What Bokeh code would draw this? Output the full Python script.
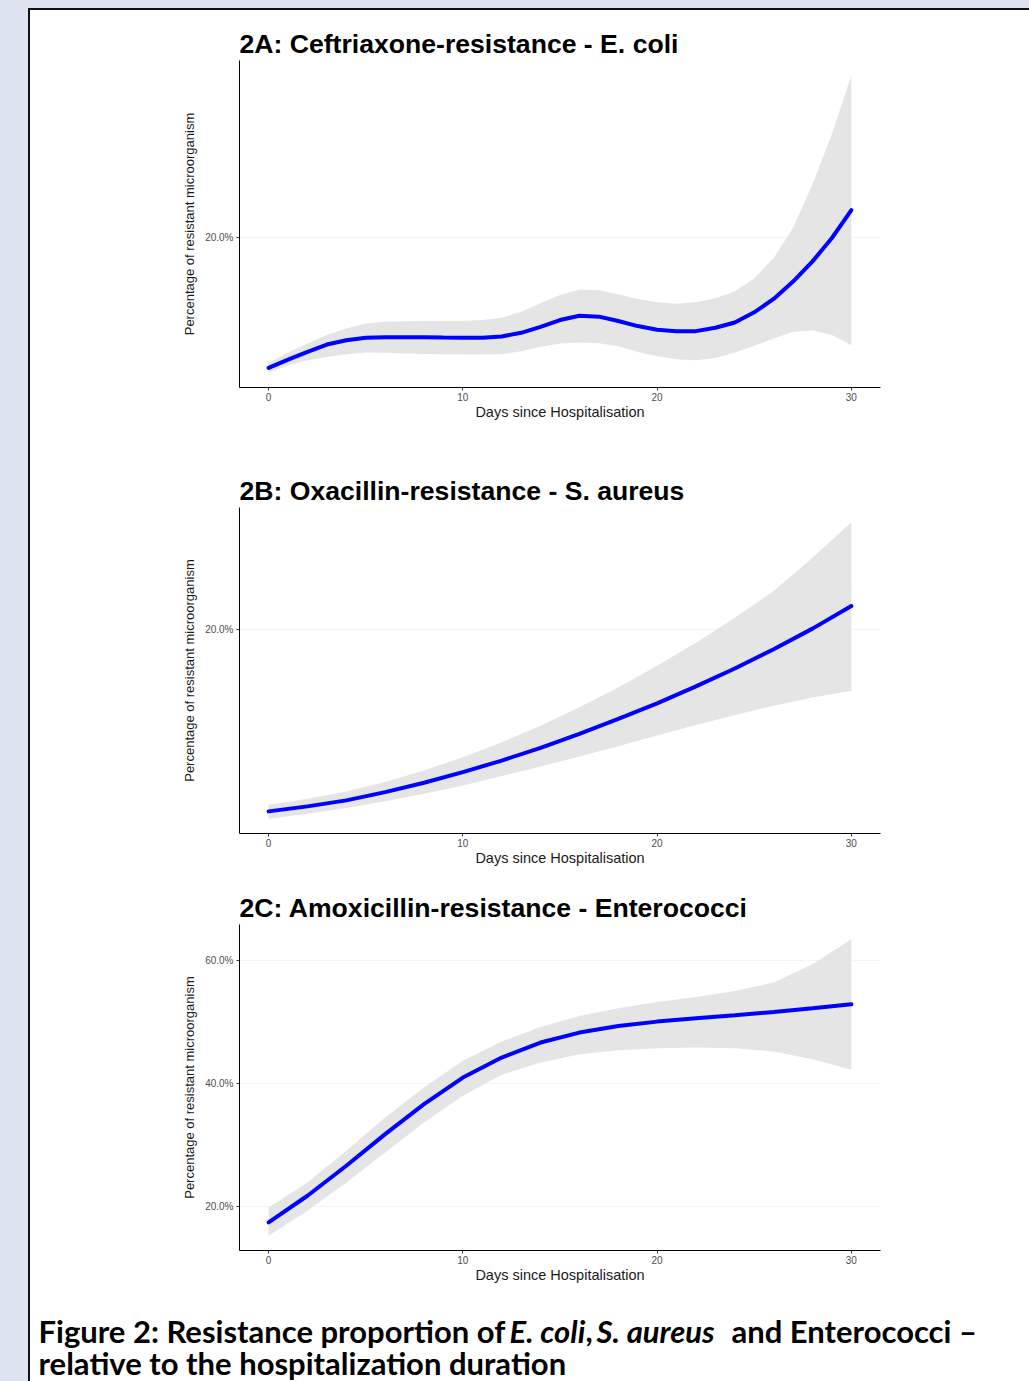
from bokeh.plotting import figure
from bokeh.layouts import column, row
from bokeh.models import Spacer, Range1d, FixedTicker, PrintfTickFormatter, Label
from bokeh.embed import file_html
from bokeh.resources import INLINE

# ---------------- data (percent) ----------------
days_a = list(range(31))
fit_a = [9.17, 9.86, 10.50, 11.11, 11.47, 11.67, 11.72, 11.72, 11.72, 11.69, 11.67,
         11.67, 11.78, 12.08, 12.58, 13.14, 13.50, 13.42, 13.06, 12.64, 12.33,
         12.22, 12.22, 12.50, 12.94, 13.78, 14.89, 16.33, 18.00, 19.94, 22.25]
upper_a = [9.58, 10.44, 11.19, 11.89, 12.44, 12.86, 13.00, 13.03, 13.06, 13.06, 13.06,
           13.14, 13.33, 13.83, 14.53, 15.22, 15.67, 15.61, 15.28, 14.89, 14.61,
           14.50, 14.61, 14.94, 15.50, 16.61, 18.28, 20.78, 24.39, 28.56, 33.42]
lower_a = [8.78, 9.39, 9.81, 10.08, 10.31, 10.44, 10.42, 10.36, 10.33, 10.31, 10.28,
           10.28, 10.31, 10.56, 10.92, 11.19, 11.28, 11.22, 10.97, 10.50, 10.14,
           9.89, 9.81, 10.00, 10.44, 11.00, 11.61, 12.17, 12.28, 11.89, 11.06]

days_b = list(range(0, 31, 2))
fit_b = [4.83, 5.25, 5.75, 6.44, 7.22, 8.11, 9.08, 10.14, 11.31, 12.56, 13.86,
         15.28, 16.78, 18.39, 20.11, 22.00]
upper_b = [5.39, 5.89, 6.50, 7.28, 8.25, 9.36, 10.61, 12.00, 13.53, 15.19, 17.00,
           18.94, 21.03, 23.25, 26.03, 29.00]
lower_b = [4.22, 4.64, 5.11, 5.67, 6.31, 7.00, 7.78, 8.58, 9.42, 10.28, 11.17,
           12.06, 12.89, 13.67, 14.36, 14.92]

days_c = list(range(0, 31, 2))
fit_c = [17.46, 21.78, 26.65, 31.78, 36.65, 40.97, 44.22, 46.65, 48.27, 49.35, 50.05,
         50.59, 51.08, 51.62, 52.22, 52.86]
upper_c = [19.89, 23.95, 29.08, 34.49, 39.35, 43.68, 46.81, 49.19, 50.97, 52.22, 53.24,
           54.05, 55.03, 56.38, 59.35, 63.41]
lower_c = [15.30, 19.35, 23.95, 28.81, 33.68, 38.00, 41.41, 43.41, 44.76, 45.41, 45.73,
           45.84, 45.73, 45.19, 43.95, 42.22]

x_ticks = [0, 10, 20, 30]
y_ticks = [0, 20, 40, 60, 80]

titles = ["2A: Ceftriaxone-resistance - E. coli",
          "2B: Oxacillin-resistance - S. aureus",
          "2C: Amoxicillin-resistance - Enterococci"]
x_label = "Days since Hospitalisation"
y_label = "Percentage of resistant microorganism"

caption_pieces = [("Figure 2: Resistance proportion of", "bold"),
                  ("E. coli", "bold italic"),
                  (",", "bold"),
                  ("S. aureus", "bold italic"),
                  ("and Enterococci \u2013", "bold")]
caption_line2 = "relative to the hospitalization duration"

W = 999            # width of the white boxed area
LEFT = 209         # frame offset inside each figure
RIGHT = 149
FONT = "Liberation Sans"
BLUE_BG = "#dee3f0"
BLACK = "#111111"


def panel(title, days, fit, lo, hi, height, top, bottom):
    ymin, ymax = min(lo), max(hi)
    pad = 0.05 * (ymax - ymin)
    p = figure(width=W, height=height, x_range=Range1d(-1.5, 31.5),
               y_range=Range1d(ymin - pad, ymax + pad),
               output_backend="svg", toolbar_location=None,
               min_border_left=LEFT, min_border_right=RIGHT,
               min_border_top=top, min_border_bottom=bottom)
    p.outline_line_color = None
    p.background_fill_color = "white"
    p.border_fill_color = "white"
    p.title.text = title
    p.title.align = "left"
    p.title.offset = 0
    p.title.standoff = 3
    p.title.text_font = FONT
    p.title.text_font_size = "26.6px"
    p.title.text_font_style = "bold"
    p.title.text_color = "black"

    p.varea(x=days, y1=lo, y2=hi, fill_color="#e5e5e5")
    p.line(days, fit, line_color="#0000ff", line_width=4, line_cap="round")

    p.xgrid.visible = False
    p.ygrid.grid_line_color = "#f4f4f4"

    for ax in (p.xaxis[0], p.yaxis[0]):
        ax.axis_line_color = "black"
        ax.axis_line_width = 1
        ax.major_tick_line_color = "#333333"
        ax.major_tick_out = 3
        ax.major_tick_in = 0
        ax.minor_tick_out = 0
        ax.minor_tick_in = 0
        ax.major_label_text_font = FONT
        ax.major_label_text_font_size = "10px"
        ax.major_label_text_color = "#4d4d4d"
        ax.axis_label_text_font = FONT
        ax.axis_label_text_font_style = "normal"
        ax.axis_label_text_color = "#1a1a1a"

    p.xaxis.ticker = FixedTicker(ticks=x_ticks)
    p.xaxis.axis_label = x_label
    p.xaxis.axis_label_text_font_size = "14.5px"
    p.xaxis.major_label_standoff = 2
    p.xaxis.axis_label_standoff = 0

    p.yaxis.ticker = FixedTicker(ticks=y_ticks)
    p.yaxis.formatter = PrintfTickFormatter(format="%.1f%%")
    p.yaxis.axis_label = y_label
    p.yaxis.axis_label_text_font_size = "13px"
    p.yaxis.major_label_standoff = 3
    p.yaxis.axis_label_standoff = 5
    return p


pA = panel(titles[0], days_a, fit_a, lower_a, upper_a, 450, 50, 73)
pB = panel(titles[1], days_b, fit_b, lower_b, upper_b, 420, 47, 47)
pC = panel(titles[2], days_c, fit_c, lower_c, upper_c, 420, 44, 50)

# caption figure (own row, no title, frame spans the whole figure)
CAP_H = 81
cap = figure(width=W, height=CAP_H, x_range=Range1d(0, W), y_range=Range1d(0, CAP_H),
             title=None, output_backend="svg", toolbar_location=None,
             x_axis_location=None, y_axis_location=None,
             min_border_left=0, min_border_right=0,
             min_border_top=0, min_border_bottom=0)
cap.outline_line_color = None
cap.grid.visible = False
cap.border_fill_color = "white"
cap.background_fill_color = "white"
piece_page_x = [38, 509, 585, 596, 731]
for (txt, style), px in zip(caption_pieces, piece_page_x):
    cap.add_layout(Label(x=px - 30, y=51, text=txt, text_font="Lato",
                         text_font_style=style, text_font_size="31px",
                         text_color="black", text_baseline="alphabetic"))
cap.add_layout(Label(x=38 - 30, y=19, text=caption_line2, text_font="Lato",
                     text_font_style="bold", text_font_size="31px",
                     text_color="black", text_baseline="alphabetic"))

PANELS_H = 2 + 450 + 420 + 420
top_bar = Spacer(width=W, height=2, styles={"background-color": BLACK})
left_bar1 = Spacer(width=2, height=PANELS_H, styles={"background-color": BLACK})
left_blue1 = Spacer(width=28, height=PANELS_H, styles={"background-color": BLUE_BG})
left_bar2 = Spacer(width=2, height=CAP_H, styles={"background-color": BLACK})
left_blue2 = Spacer(width=28, height=CAP_H, styles={"background-color": BLUE_BG})
top_blue = Spacer(width=28 + 2 + W, height=8, styles={"background-color": BLUE_BG})

layout = column(top_blue,
                row(left_blue1, left_bar1, column(top_bar, pA, pB, pC)),
                row(left_blue2, left_bar2, cap))

html = file_html(layout, INLINE)
html = html.replace("<body>", '<body style="background-color:%s;">' % BLUE_BG, 1)
open("out.html", "w").write(html)
